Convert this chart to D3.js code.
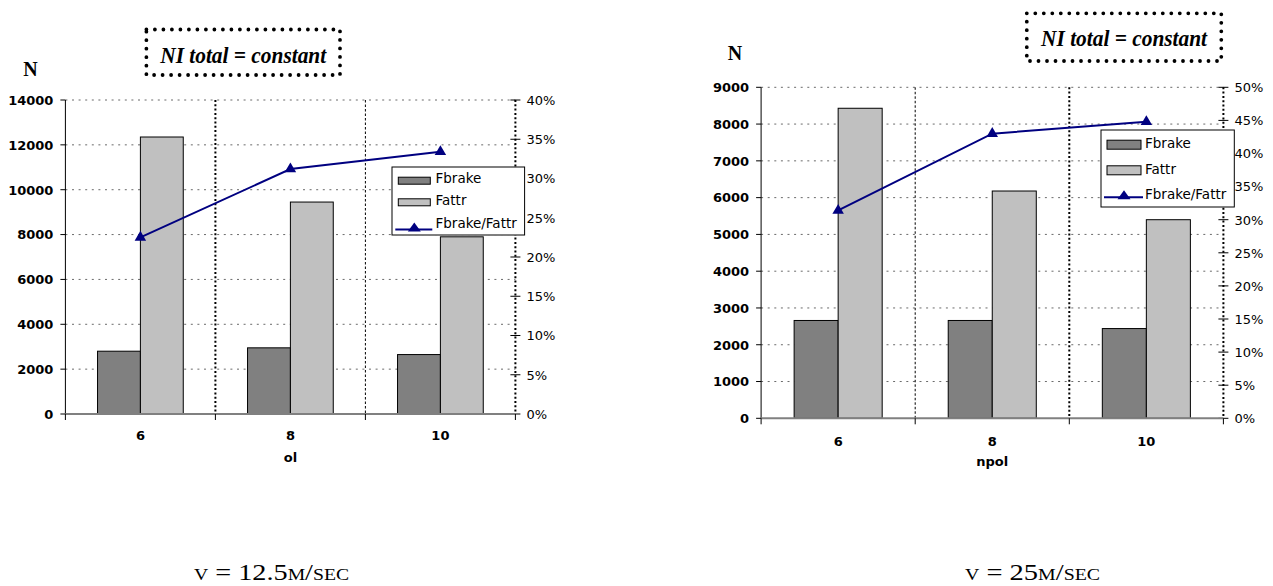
<!DOCTYPE html>
<html><head><meta charset="utf-8">
<script src="https://cdn.jsdelivr.net/npm/d3@7"></script>
<style>body{margin:0;background:#fff} svg{display:block}</style>
</head><body>
<svg id="c" width="1273" height="586"></svg>
<script>
// ---------------- data ----------------
const categories = ["6", "8", "10"];
const seriesNames = ["Fbrake", "Fattr", "Fbrake/Fattr"];
const fbrakeA = [2800, 2950, 2650];
const fattrA  = [12350, 9450, 7900];
const ratioA  = [0.225, 0.312, 0.334];
const fbrakeB = [2660, 2660, 2440];
const fattrB  = [8430, 6180, 5400];
const ratioB  = [0.314, 0.430, 0.448];
const yTicksA  = [0, 2000, 4000, 6000, 8000, 10000, 12000, 14000];
const y2TicksA = [0, 0.05, 0.10, 0.15, 0.20, 0.25, 0.30, 0.35, 0.40];
const yTicksB  = [0, 1000, 2000, 3000, 4000, 5000, 6000, 7000, 8000, 9000];
const y2TicksB = [0, 0.05, 0.10, 0.15, 0.20, 0.25, 0.30, 0.35, 0.40, 0.45, 0.50];
const axisTitleA = "ol";
const axisTitleB = "npol";
const noteText = "NI total = constant";
const unitLabel = "N";
const captionA = "v = 12.5m/sec";
const captionB = "v = 25m/sec";

// ---------------- layout ----------------
const svg = d3.select("#c");
const SANS = "'DejaVu Sans', sans-serif";
const SERIF = "'Liberation Serif', 'Times New Roman', serif";
const NAVY = "#000080";

function tri(w, h) {
  return `M0,${-2*h/3}L${w/2},${h/3}L${-w/2},${h/3}Z`;
}

function drawChart(cfg) {
  const g = svg.append("g");
  const x = d3.scaleBand().domain(categories).range([cfg.x0, cfg.x1]);
  const xs = d3.scaleBand().domain(["Fbrake", "Fattr"]).range([0, x.bandwidth()]).paddingOuter(0.75);
  const y = d3.scaleLinear().domain([0, cfg.yMax]).range([cfg.yBot, cfg.yTop]);
  const y2 = d3.scaleLinear().domain([0, cfg.y2Max]).range([cfg.yBot, cfg.yTop]);

  // horizontal gridlines
  g.append("g").selectAll("line").data(cfg.yTicks.filter(d => d > 0)).join("line")
    .attr("x1", cfg.x0).attr("x2", cfg.x1)
    .attr("y1", d => y(d)).attr("y2", d => y(d))
    .attr("stroke", "#6a6a6a").attr("stroke-width", 1).attr("stroke-dasharray", "2,4.6");

  // vertical gridlines at category boundaries
  const bounds = categories.slice(1).map(c => x(c));
  g.append("g").selectAll("line").data(bounds).join("line")
    .attr("x1", d => d).attr("x2", d => d)
    .attr("y1", cfg.yTop).attr("y2", cfg.yBot)
    .attr("stroke", "#000")
    .attr("stroke-width", (d, i) => cfg.vStyles[i] === "heavy" ? 2 : 1)
    .attr("stroke-dasharray", (d, i) => cfg.vStyles[i] === "heavy" ? "2,2.3" : "2.5,2");

  // bars
  const rows = categories.map((c, i) => ({c, Fbrake: cfg.fbrake[i], Fattr: cfg.fattr[i]}));
  const fills = {Fbrake: "#808080", Fattr: "#c0c0c0"};
  g.append("g").selectAll("g").data(rows).join("g")
    .attr("transform", d => `translate(${x(d.c)},0)`)
    .selectAll("rect").data(d => ["Fbrake", "Fattr"].map(k => ({k, v: d[k]}))).join("rect")
    .attr("x", d => xs(d.k)).attr("width", xs.bandwidth())
    .attr("y", d => y(d.v)).attr("height", d => cfg.yBot - y(d.v))
    .attr("fill", d => fills[d.k]).attr("stroke", "#000").attr("stroke-width", 1);

  // left axis
  g.append("line").attr("x1", cfg.x0).attr("x2", cfg.x0).attr("y1", cfg.yTop).attr("y2", cfg.yBot)
    .attr("stroke", "#000").attr("stroke-width", 1);
  g.append("g").selectAll("line").data(cfg.yTicks).join("line")
    .attr("x1", cfg.x0 - 5).attr("x2", cfg.x0).attr("y1", d => y(d)).attr("y2", d => y(d))
    .attr("stroke", "#000");
  g.append("g").selectAll("text").data(cfg.yTicks).join("text")
    .attr("x", cfg.x0 - 12).attr("y", d => y(d)).attr("dy", "0.37em")
    .attr("text-anchor", "end").attr("font-family", SANS).attr("font-weight", "bold")
    .attr("font-size", 13).text(d => d);

  // right axis
  g.append("line").attr("x1", cfg.x1).attr("x2", cfg.x1).attr("y1", cfg.yTop).attr("y2", cfg.yBot)
    .attr("stroke", "#000").attr("stroke-width", 2).attr("stroke-dasharray", "2,2.3");
  g.append("g").selectAll("line").data(cfg.y2Ticks).join("line")
    .attr("x1", cfg.x1 - 5).attr("x2", cfg.x1 + 5).attr("y1", d => y2(d)).attr("y2", d => y2(d))
    .attr("stroke", "#000");
  g.append("g").selectAll("text").data(cfg.y2Ticks).join("text")
    .attr("x", cfg.x1 + 11).attr("y", d => y2(d)).attr("dy", "0.37em")
    .attr("font-family", SANS).attr("font-size", 13).text(d => d3.format(".0%")(d));

  // bottom axis
  g.append("line").attr("x1", cfg.x0).attr("x2", cfg.x1).attr("y1", cfg.yBot).attr("y2", cfg.yBot)
    .attr("stroke", "#808080").attr("stroke-width", 2);
  g.append("g").selectAll("line").data([cfg.x0, ...bounds, cfg.x1]).join("line")
    .attr("x1", d => d).attr("x2", d => d).attr("y1", cfg.yBot).attr("y2", cfg.yBot + 6)
    .attr("stroke", "#000");
  g.append("g").selectAll("text").data(categories).join("text")
    .attr("x", d => x(d) + x.bandwidth() / 2).attr("y", cfg.catY)
    .attr("text-anchor", "middle").attr("font-family", SANS).attr("font-weight", "bold")
    .attr("font-size", 13).text(d => d);
  g.append("text").attr("x", (cfg.x0 + cfg.x1) / 2).attr("y", cfg.titleY)
    .attr("text-anchor", "middle").attr("font-family", SANS).attr("font-weight", "bold")
    .attr("font-size", 13).text(cfg.axisTitle);

  // ratio line
  const pts = categories.map((c, i) => [x(c) + x.bandwidth() / 2, y2(cfg.ratio[i])]);
  g.append("path").attr("d", d3.line()(pts)).attr("fill", "none")
    .attr("stroke", NAVY).attr("stroke-width", 2);
  g.append("g").selectAll("path").data(pts).join("path")
    .attr("transform", d => `translate(${d[0]},${d[1]})`).attr("d", tri(11.5, 9.8)).attr("fill", NAVY);

  // legend
  const L = cfg.legend;
  const lg = g.append("g");
  lg.append("rect").attr("x", L.x).attr("y", L.y).attr("width", L.w).attr("height", L.h)
    .attr("fill", "#fff").attr("stroke", "#000").attr("stroke-width", 1);
  ["Fbrake", "Fattr"].forEach((k, i) => {
    lg.append("rect").attr("x", L.sx).attr("y", L.swY[i] - L.sh / 2).attr("width", L.sw).attr("height", L.sh)
      .attr("fill", fills[k]).attr("stroke", "#000").attr("stroke-width", 1);
  });
  lg.append("line").attr("x1", L.sx - 3).attr("x2", L.sx + L.sw + 2).attr("y1", L.lineY).attr("y2", L.lineY)
    .attr("stroke", NAVY).attr("stroke-width", 2);
  lg.append("path").attr("transform", `translate(${L.sx + L.sw / 2},${L.lineY - 1})`)
    .attr("d", tri(13, 9)).attr("fill", NAVY);
  lg.selectAll("text.lt").data(seriesNames).join("text").attr("class", "lt")
    .attr("x", L.tx).attr("y", (d, i) => L.textY[i])
    .attr("font-family", SANS).attr("font-size", 13.5).text(d => d);

  // unit label
  g.append("text").attr("x", cfg.N[0]).attr("y", cfg.N[1]).attr("text-anchor", "middle")
    .attr("font-family", SERIF).attr("font-weight", "bold").attr("font-size", 20).text(unitLabel);

  // note box
  const B = cfg.note;
  g.append("rect").attr("x", B.x).attr("y", B.y).attr("width", B.w).attr("height", B.h)
    .attr("fill", "none").attr("stroke", "#000").attr("stroke-width", 3.8)
    .attr("stroke-linecap", "round").attr("stroke-dasharray", "0,8.5");
  g.append("text").attr("x", B.x + B.w / 2).attr("y", B.ty).attr("text-anchor", "middle")
    .attr("font-family", SERIF).attr("font-weight", "bold").attr("font-style", "italic")
    .attr("font-size", 23).attr("textLength", 166).attr("lengthAdjust", "spacingAndGlyphs")
    .text(noteText);

  // caption
  g.append("text").attr("x", cfg.cap[0]).attr("y", cfg.cap[1])
    .attr("font-family", SERIF).attr("font-size", 23).style("font-variant", "small-caps")
    .attr("textLength", cfg.capLen).attr("lengthAdjust", "spacingAndGlyphs")
    .text(cfg.caption);
}

drawChart({
  x0: 65.4, x1: 515.4, yTop: 100, yBot: 414,
  yMax: 14000, y2Max: 0.40, yTicks: yTicksA, y2Ticks: y2TicksA,
  fbrake: fbrakeA, fattr: fattrA, ratio: ratioA,
  vStyles: ["heavy", "thin"], catY: 440, titleY: 461.5, axisTitle: axisTitleA,
  legend: {x: 392, y: 167, w: 132.6, h: 68, sx: 398.3, sw: 32, sh: 7,
           swY: [180.7, 202.3], lineY: 229.5, tx: 435.5, textY: [182.7, 205, 228.3]},
  N: [30.4, 76], note: {x: 146.4, y: 29.5, w: 193.6, h: 45.5, ty: 62.5},
  cap: [194, 580], capLen: 155, caption: captionA
});

drawChart({
  x0: 761.1, x1: 1223.4, yTop: 87.3, yBot: 418.3,
  yMax: 9000, y2Max: 0.50, yTicks: yTicksB, y2Ticks: y2TicksB,
  fbrake: fbrakeB, fattr: fattrB, ratio: ratioB,
  vStyles: ["thin", "heavy"], catY: 445.5, titleY: 466, axisTitle: axisTitleB,
  legend: {x: 1101, y: 130, w: 133.3, h: 77, sx: 1107, sw: 34, sh: 9,
           swY: [144.7, 170.3], lineY: 197.3, tx: 1145, textY: [148, 174, 198.5]},
  N: [735, 60], note: {x: 1026.8, y: 13.3, w: 194.5, h: 47.7, ty: 45.5},
  cap: [965, 580], capLen: 135, caption: captionB
});
</script>
</body></html>
